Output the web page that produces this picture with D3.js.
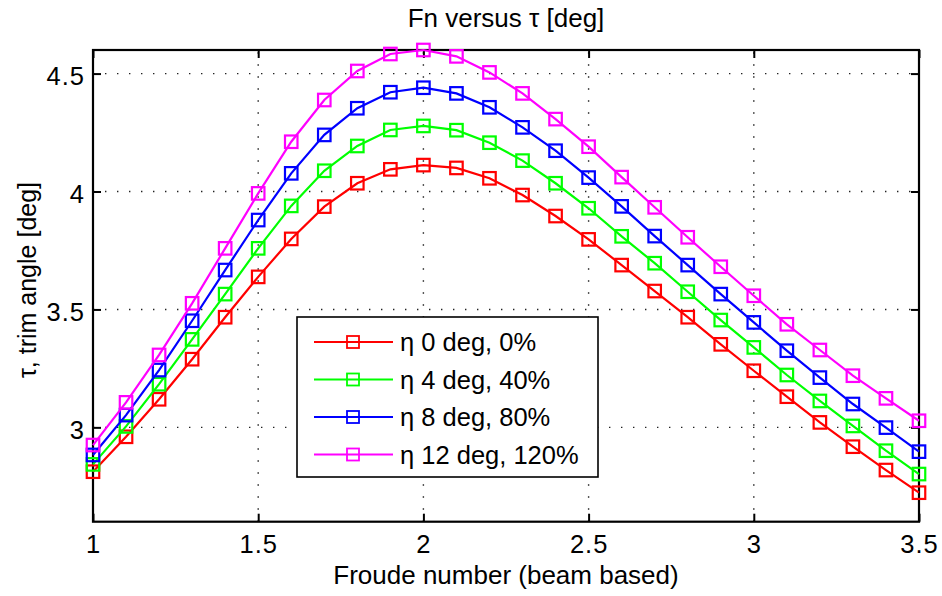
<!DOCTYPE html>
<html>
<head>
<meta charset="utf-8">
<script src="https://cdn.jsdelivr.net/npm/d3@7"></script>
<style>
  html, body { margin: 0; padding: 0; background: #fff; }
  svg { display: block; }
  text { font-family: "Liberation Sans", Arial, Helvetica, sans-serif; fill: #000; }
</style>
</head>
<body>
<svg id="chart" width="942" height="596"></svg>
<script>
const fn = [1.0, 1.1, 1.2, 1.3, 1.4, 1.5, 1.6, 1.7, 1.8, 1.9, 2.0, 2.1, 2.2, 2.3, 2.4, 2.5, 2.6, 2.7, 2.8, 2.9, 3.0, 3.1, 3.2, 3.3, 3.4, 3.5];
const eta0  = [2.812, 2.960, 3.119, 3.289, 3.467, 3.638, 3.799, 3.936, 4.035, 4.094, 4.112, 4.100, 4.056, 3.985, 3.896, 3.797, 3.688, 3.578, 3.467, 3.352, 3.240, 3.130, 3.021, 2.918, 2.819, 2.723];
const eta4  = [2.843, 3.004, 3.183, 3.373, 3.565, 3.759, 3.939, 4.088, 4.193, 4.261, 4.278, 4.260, 4.207, 4.131, 4.035, 3.929, 3.810, 3.696, 3.575, 3.455, 3.339, 3.222, 3.112, 3.006, 2.901, 2.802];
const eta8  = [2.883, 3.052, 3.243, 3.452, 3.667, 3.879, 4.077, 4.240, 4.353, 4.421, 4.440, 4.416, 4.357, 4.272, 4.173, 4.059, 3.937, 3.811, 3.688, 3.565, 3.445, 3.325, 3.211, 3.099, 2.999, 2.897];
const eta12 = [2.925, 3.106, 3.307, 3.526, 3.759, 3.992, 4.211, 4.388, 4.511, 4.583, 4.600, 4.573, 4.505, 4.416, 4.307, 4.190, 4.061, 3.933, 3.806, 3.681, 3.558, 3.437, 3.328, 3.219, 3.123, 3.028];
const seriesNames = ["η 0 deg, 0%", "η 4 deg, 40%", "η 8 deg, 80%", "η 12 deg, 120%"];
const seriesColors = ["#ff0000", "#00ff00", "#0000ff", "#ff00ff"];
const xTicks = [1, 1.5, 2, 2.5, 3, 3.5];
const xTickLabels = ["1", "1.5", "2", "2.5", "3", "3.5"];
const yTicks = [3, 3.5, 4, 4.5];
const yTickLabels = ["3", "3.5", "4", "4.5"];
const titleText = "Fn versus τ [deg]";
const xLabelText = "Froude number (beam based)";
const yLabelText = "τ, trim angle [deg]";

const seriesValues = [eta0, eta4, eta8, eta12];
const series = seriesValues.map((vals, i) => ({
  name: seriesNames[i], color: seriesColors[i],
  points: fn.map((x, j) => ({ x, y: vals[j] }))
}));

const L = 93, R = 919, T = 50, B = 521.7;
const x = d3.scaleLinear().domain([1, 3.5]).range([L, R]);
const y = d3.scaleLinear().domain([2.6, 4.6]).range([B, T]);

const svg = d3.select("#chart");

// grid
const grid = svg.append("g").attr("stroke", "#222").attr("stroke-width", 1.4)
  .attr("stroke-dasharray", "1.4 10.6").attr("fill", "none");
xTicks.filter(t => t > 1 && t < 3.5).forEach(t => {
  grid.append("line").attr("x1", x(t)).attr("x2", x(t)).attr("y1", B).attr("y2", T);
});
yTicks.forEach(t => {
  grid.append("line").attr("x1", L).attr("x2", R).attr("y1", y(t)).attr("y2", y(t));
});

// axes with inward ticks
const tickLen = 8;
const tickFont = 25.5;
const axB = svg.append("g").attr("transform", `translate(0,${B})`)
  .call(d3.axisBottom(x).tickValues(xTicks).tickFormat((d, i) => xTickLabels[i]).tickSizeInner(-tickLen).tickSizeOuter(0).tickPadding(13));
const axT = svg.append("g").attr("transform", `translate(0,${T})`)
  .call(d3.axisTop(x).tickValues(xTicks).tickFormat("").tickSizeInner(-tickLen).tickSizeOuter(0));
const axL = svg.append("g").attr("transform", `translate(${L},0)`)
  .call(d3.axisLeft(y).tickValues(yTicks).tickFormat((d, i) => yTickLabels[i]).tickSizeInner(-tickLen).tickSizeOuter(0).tickPadding(8));
const axR = svg.append("g").attr("transform", `translate(${R},0)`)
  .call(d3.axisRight(y).tickValues(yTicks).tickFormat("").tickSizeInner(-tickLen).tickSizeOuter(0));
[axB, axT, axL, axR].forEach(a => {
  a.select(".domain").remove();
  a.selectAll(".tick line").attr("stroke", "#000").attr("stroke-width", 2);
  a.selectAll(".tick text").attr("font-family", "Liberation Sans, Arial, sans-serif")
    .attr("font-size", tickFont).attr("letter-spacing", 1).attr("fill", "#000");
});
axL.selectAll(".tick text").attr("dy", "0.42em");

// frame
svg.append("rect").attr("x", L).attr("y", T).attr("width", R - L).attr("height", B - T)
  .attr("fill", "none").attr("stroke", "#000").attr("stroke-width", 2.2);

// series
const line = d3.line().x(d => x(d.x)).y(d => y(d.y));
const ms = 12.5;
series.forEach(s => {
  const g = svg.append("g");
  g.append("path").datum(s.points).attr("d", line).attr("fill", "none")
    .attr("stroke", s.color).attr("stroke-width", 2.2);
  g.selectAll("rect").data(s.points).enter().append("rect")
    .attr("x", d => x(d.x) - ms / 2).attr("y", d => y(d.y) - ms / 2)
    .attr("width", ms).attr("height", ms)
    .attr("fill", "none").attr("stroke", s.color).attr("stroke-width", 2.2);
});

// legend
const lg = svg.append("g");
const lgX = 297, lgY = 317, lgW = 301, lgH = 160;
lg.append("rect").attr("x", lgX).attr("y", lgY).attr("width", lgW).attr("height", lgH)
  .attr("fill", "#fff").attr("stroke", "#000").attr("stroke-width", 1.6);
const rowY = d3.scalePoint().domain(seriesNames).range([lgY + 25, lgY + 137.5]);
series.forEach(s => {
  const cy = rowY(s.name);
  lg.append("line").attr("x1", lgX + 17).attr("x2", lgX + 96).attr("y1", cy).attr("y2", cy)
    .attr("stroke", s.color).attr("stroke-width", 1.8);
  lg.append("rect").attr("x", lgX + 56 - 6).attr("y", cy - 6).attr("width", 12).attr("height", 12)
    .attr("fill", "none").attr("stroke", s.color).attr("stroke-width", 1.8);
  lg.append("text").attr("x", lgX + 103).attr("y", cy).attr("dy", "0.36em")
    .attr("font-size", 25.5).text(s.name);
});

// title and labels
svg.append("text").attr("x", (L + R) / 2).attr("y", 27).attr("text-anchor", "middle")
  .attr("font-size", 26).text(titleText);
svg.append("text").attr("x", (L + R) / 2).attr("y", 584).attr("text-anchor", "middle")
  .attr("font-size", 26).text(xLabelText);
svg.append("text").attr("transform", `translate(36,280) rotate(-90)`).attr("text-anchor", "middle")
  .attr("font-size", 25).text(yLabelText);
</script>
</body>
</html>
